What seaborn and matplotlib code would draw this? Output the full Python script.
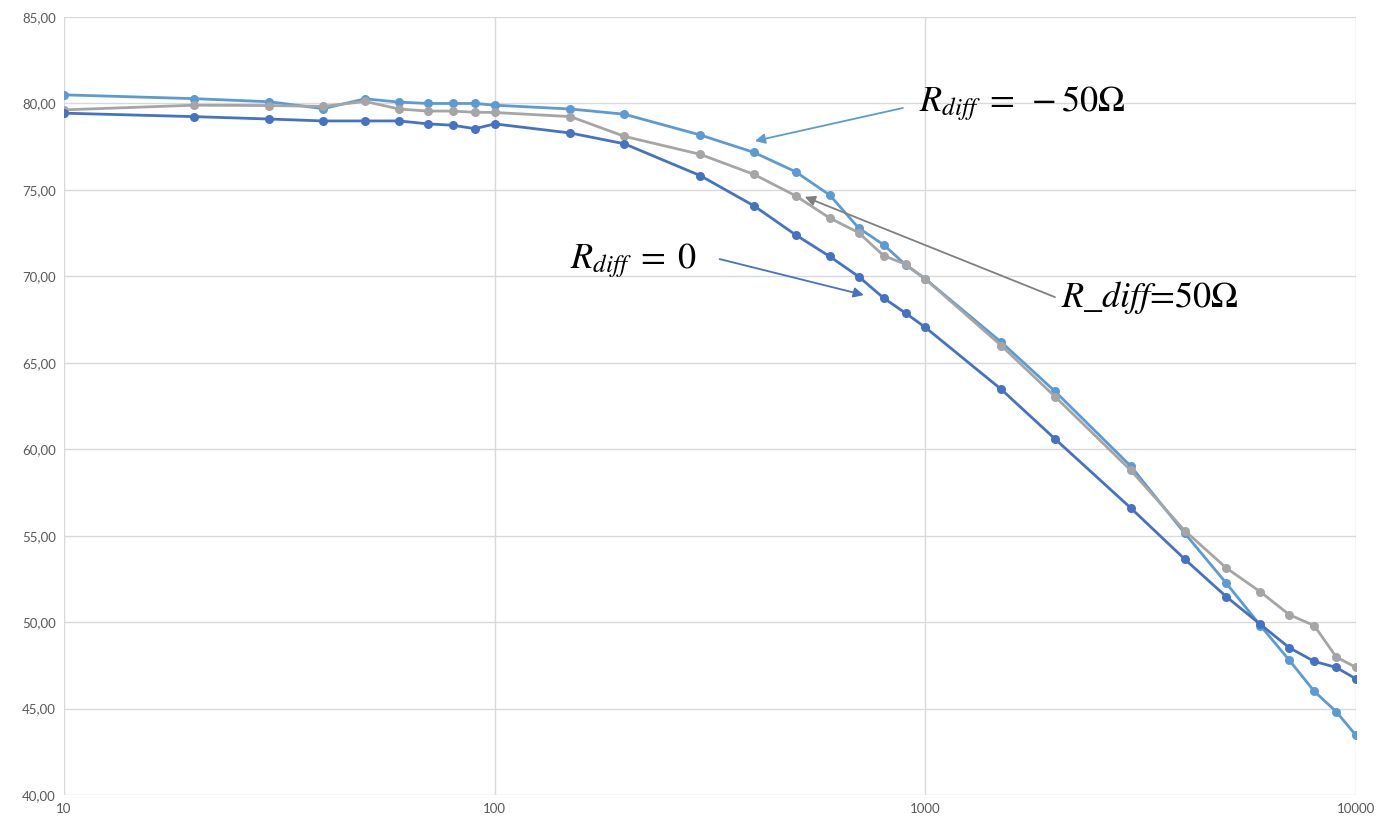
import numpy as np
import pandas as pd
import matplotlib
matplotlib.use("Agg")
import matplotlib.pyplot as plt
from matplotlib.ticker import FuncFormatter, FixedLocator, NullLocator
import seaborn as sns

# frequency points
freq = [10, 20, 30, 40, 50, 60, 70, 80, 90, 100, 150, 200, 300, 400, 500,
        600, 700, 800, 900, 1000, 1500, 2000, 3000, 4000, 5000, 6000, 7000,
        8000, 9000, 10000]

# R_diff = -50 Ohm (light blue)
r_neg50 = [80.50, 80.28, 80.10, 79.70, 80.27, 80.08, 80.00, 80.00, 80.00, 79.90,
           79.68, 79.38, 78.18, 77.17, 76.05, 74.70, 72.80, 71.83, 70.67, 69.85,
           66.20, 63.35, 59.02, 55.15, 52.25, 49.80, 47.80, 46.00, 44.82, 43.45]

# R_diff = 50 Ohm (grey)
r_pos50 = [79.63, 79.90, 79.88, 79.83, 80.12, 79.68, 79.56, 79.56, 79.49, 79.48,
           79.24, 78.10, 77.06, 75.90, 74.66, 73.37, 72.53, 71.20, 70.70, 69.85,
           66.00, 63.05, 58.78, 55.30, 53.13, 51.75, 50.43, 49.80, 47.98, 47.38]

# R_diff = 0 (dark blue)
r_zero = [79.44, 79.24, 79.10, 78.99, 78.99, 78.99, 78.82, 78.74, 78.54, 78.82,
          78.29, 77.67, 75.83, 74.08, 72.40, 71.15, 69.99, 68.75, 67.87, 67.05,
          63.47, 60.60, 56.60, 53.65, 51.47, 49.87, 48.52, 47.73, 47.38, 46.72]

series_names = ["neg50", "pos50", "zero"]
colors = {"neg50": "#5B9BD5", "pos50": "#A5A5A5", "zero": "#4472C4"}

df = pd.concat([
    pd.DataFrame({"f": freq, "v": r_neg50, "s": "neg50"}),
    pd.DataFrame({"f": freq, "v": r_pos50, "s": "pos50"}),
    pd.DataFrame({"f": freq, "v": r_zero, "s": "zero"}),
])

sns.set_style("white")
plt.rcParams["mathtext.fontset"] = "stix"

fig = plt.figure(figsize=(13.79, 8.23), dpi=100)
ax = fig.add_axes([0.0464, 0.034, 0.9369, 0.9453])

for name in series_names:
    sns.lineplot(data=df[df["s"] == name], x="f", y="v", color=colors[name],
                 marker="o", markersize=6.5, markeredgewidth=0, linewidth=2.0,
                 ax=ax, legend=False)

ax.set_xscale("log")
ax.set_xlim(10, 10000)
ax.set_ylim(40, 85)
ax.xaxis.set_major_locator(FixedLocator([10, 100, 1000, 10000]))
ax.xaxis.set_minor_locator(NullLocator())
ax.xaxis.set_major_formatter(FuncFormatter(lambda v, p: f"{int(v)}"))
ax.set_yticks(np.arange(40, 86, 5))
ax.yaxis.set_major_formatter(FuncFormatter(lambda v, p: f"{v:.2f}".replace(".", ",")))
ax.grid(True, color="#D9D9D9", linewidth=1.0)
ax.set_axisbelow(True)
for sp in ax.spines.values():
    sp.set_visible(False)
ax.tick_params(length=0, labelsize=9.5, labelcolor="#595959", pad=6)
for lab in ax.get_xticklabels() + ax.get_yticklabels():
    lab.set_fontfamily("Lato")
ax.set_xlabel("")
ax.set_ylabel("")

# labels
ax.text(965, 80.0, r"$R_{diff}\;=\;-50\Omega$", fontsize=26, va="center",
        ha="left", color="black")
ax.text(150, 70.9, r"$R_{diff}\;=\;0$", fontsize=26, va="center",
        ha="left", color="black")
ax.text(2070, 68.75, r"$R\_diff$=50Ω", fontsize=26, va="center", ha="left",
        family="STIXGeneral", color="black")

# arrows
arrow_kw = dict(arrowstyle="-|>", lw=1.3, mutation_scale=15, shrinkA=0, shrinkB=0)
ax.annotate("", xy=(402, 77.83), xytext=(887, 79.74),
            arrowprops=dict(color="#5B9BD5", **arrow_kw))
ax.annotate("", xy=(720, 68.92), xytext=(333, 71.0),
            arrowprops=dict(color="#4472C4", **arrow_kw))
ax.annotate("", xy=(525, 74.6), xytext=(2000, 68.8),
            arrowprops=dict(color="#7F7F7F", **arrow_kw))

fig.savefig("out.png", dpi=100)
